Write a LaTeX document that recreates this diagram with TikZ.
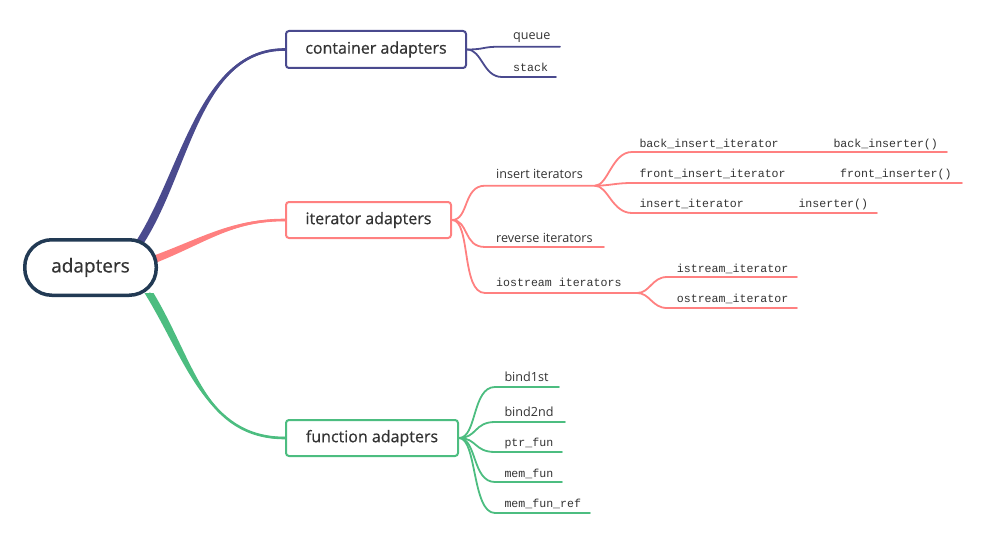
\documentclass[tikz,border=0pt]{standalone}
\usepackage{fontspec}
\setmainfont{Open Sans}
\newfontfamily\monof{Liberation Mono}
\newfontfamily\mainf[FakeBold=0.6]{Open Sans}
\usetikzlibrary{backgrounds,calc}
\definecolor{cpur}{HTML}{4A4A8E}
\definecolor{cpink}{HTML}{FF8080}
\definecolor{cgreen}{HTML}{4CBD80}
\definecolor{croot}{HTML}{223A54}
\definecolor{ctext}{HTML}{333333}
\tikzset{
  rootbox/.style={draw=croot, line width=3.5pt, rounded corners=27pt, minimum width=131.5pt, minimum height=55.5pt, inner sep=0pt, text=ctext, font=\mainf\fontsize{19}{22}\selectfont, fill=white},
  mainbox/.style={line width=2pt, rounded corners=3pt, inner sep=0pt, text=ctext, font=\mainf\fontsize{16}{18}\selectfont, fill=white},
  br/.style={line width=1.8pt, line cap=round},
  trunk/.style={line width=2.6pt},
  slbl/.style={anchor=base west, inner sep=0pt, text=ctext, font=\fontsize{12.6}{14}\selectfont},
  mlbl/.style={anchor=base west, inner sep=0pt, text=ctext, font=\monof\fontsize{11.6}{14}\selectfont},
}
\begin{document}
\begin{tikzpicture}[x=1pt,y=-1pt]
\useasboundingbox (0,0) rectangle (983,535);
% main nodes
\node[rootbox] (rt) at (90.5,267.5) {adapters};
\node[mainbox, draw=cpur, minimum width=180pt, minimum height=37pt] (ca) at (376,49.5) {container adapters};
\node[mainbox, draw=cpink, minimum width=165pt, minimum height=36pt] (ia) at (368.5,220) {iterator adapters};
\node[mainbox, draw=cgreen, minimum width=172pt, minimum height=36pt] (fa) at (372,438) {function adapters};
% root connectors (tapered)
\begin{pgfonlayer}{background}
\draw[trunk, cpur] ([xshift=49.5pt,yshift=-4pt]rt.north) .. controls (186,170) and (200,49) .. (ca.west);
\fill[cpur] ([xshift=45pt,yshift=-4pt]rt.north) .. controls (182,170) and (199,48) .. ([yshift=1pt]ca.west)
  -- ([yshift=-1pt]ca.west) .. controls (201,50) and (190,170) .. ([xshift=54pt,yshift=-4pt]rt.north) -- cycle;
\draw[trunk, cpink] ([xshift=-4pt,yshift=8pt]rt.east) .. controls (205,240) and (232,220) .. (ia.west);
\fill[cpink] ([xshift=-4pt,yshift=12pt]rt.east) .. controls (205,236.5) and (232,219) .. ([yshift=1pt]ia.west)
  -- ([yshift=-1pt]ia.west) .. controls (232,221) and (205,243.5) .. ([xshift=-4pt,yshift=4pt]rt.east) -- cycle;
\draw[trunk, cgreen] ([xshift=58.5pt,yshift=4pt]rt.south) .. controls (190,360) and (205,438) .. (fa.west);
\fill[cgreen] ([xshift=54pt,yshift=4pt]rt.south) .. controls (186,360) and (204,437) .. ([yshift=1pt]fa.west)
  -- ([yshift=-1pt]fa.west) .. controls (206,439) and (194,360) .. ([xshift=63pt,yshift=4pt]rt.south) -- cycle;
\end{pgfonlayer}
% container children
\coordinate (q1) at (500,46.7); \coordinate (q2) at (560,46.7);
\coordinate (s1) at (502,77); \coordinate (s2) at (556,77);
\draw[br, cpur] (ca.east) .. controls (485,49.5) and (482,46.7) .. (q1) -- (q2);
\draw[br, cpur] (ca.east) .. controls (482,49.5) and (483,77) .. (s1) -- (s2);
\node[slbl] (tq) at (513,39.5) {queue};
\node[mlbl] (ts) at (513,71) {stack};
% iterator children
\coordinate (ii1) at (485,185.7); \coordinate (ii2) at (595,185.7);
\coordinate (rv1) at (485,247); \coordinate (rv2) at (604,247);
\coordinate (io1) at (485,293); \coordinate (io2) at (637,293);
\draw[br, cpink] (ia.east) .. controls (469,220) and (463,185.7) .. (ii1) -- (ii2);
\draw[br, cpink] (ia.east) .. controls (469,220) and (463,247) .. (rv1) -- (rv2);
\draw[br, cpink] (ia.east) .. controls (471,220) and (461,293) .. (io1) -- (io2);
\node[slbl] (tii) at (496,178) {insert iterators};
\node[slbl] (trv) at (496,242.7) {reverse iterators};
\node[mlbl] (tio) at (496,286.7) {iostream iterators};
\coordinate (b1) at (632,152); \coordinate (b2) at (947,152);
\coordinate (f1) at (632,183); \coordinate (f2) at (962,183);
\coordinate (n1) at (632,213); \coordinate (n2) at (877,213);
\draw[br, cpink] (ii2) .. controls (608,185.7) and (612,152) .. (b1) -- (b2);
\draw[br, cpink] (ii2) .. controls (610,185.7) and (615,183) .. (f1) -- (f2);
\draw[br, cpink] (ii2) .. controls (608,185.7) and (612,213) .. (n1) -- (n2);
\node[mlbl] (tb) at (639.3,147.3) {back\_insert\_iterator};
\node[mlbl] (tb2) at (833.3,147.3) {back\_inserter()};
\node[mlbl] (tf) at (639.3,177.3) {front\_insert\_iterator};
\node[mlbl] (tf2) at (840,177.3) {front\_inserter()};
\node[mlbl] (tn) at (639.3,207.7) {insert\_iterator};
\node[mlbl] (tn2) at (798.3,207.7) {inserter()};
\coordinate (is1) at (667,277); \coordinate (is2) at (797,277);
\coordinate (os1) at (667,308); \coordinate (os2) at (797,308);
\draw[br, cpink] (io2) .. controls (650,293) and (652,277) .. (is1) -- (is2);
\draw[br, cpink] (io2) .. controls (650,293) and (652,308) .. (os1) -- (os2);
\node[mlbl] (tis) at (676.7,272.3) {istream\_iterator};
\node[mlbl] (tos) at (676.7,302.3) {ostream\_iterator};
% function children
\coordinate (g1a) at (495,387); \coordinate (g1b) at (559,387);
\coordinate (g2a) at (495,422); \coordinate (g2b) at (565,422);
\coordinate (g3a) at (495,452); \coordinate (g3b) at (562,452);
\coordinate (g4a) at (495,482); \coordinate (g4b) at (562,482);
\coordinate (g5a) at (495,513); \coordinate (g5b) at (590,513);
\draw[br, cgreen] (fa.east) .. controls (477,438) and (472,387) .. (g1a) -- (g1b);
\draw[br, cgreen] (fa.east) .. controls (477,438) and (474,422) .. (g2a) -- (g2b);
\draw[br, cgreen] (fa.east) .. controls (477,438) and (474,452) .. (g3a) -- (g3b);
\draw[br, cgreen] (fa.east) .. controls (477,438) and (472,482) .. (g4a) -- (g4b);
\draw[br, cgreen] (fa.east) .. controls (477,438) and (472,513) .. (g5a) -- (g5b);
\node[slbl] (t1) at (504.3,381) {bind1st};
\node[slbl] (t2) at (504.3,416) {bind2nd};
\node[mlbl] (t3) at (504.3,446) {ptr\_fun};
\node[mlbl] (t4) at (504.3,477.6) {mem\_fun};
\node[mlbl] (t5) at (504.3,507) {mem\_fun\_ref};
\end{tikzpicture}
\end{document}
